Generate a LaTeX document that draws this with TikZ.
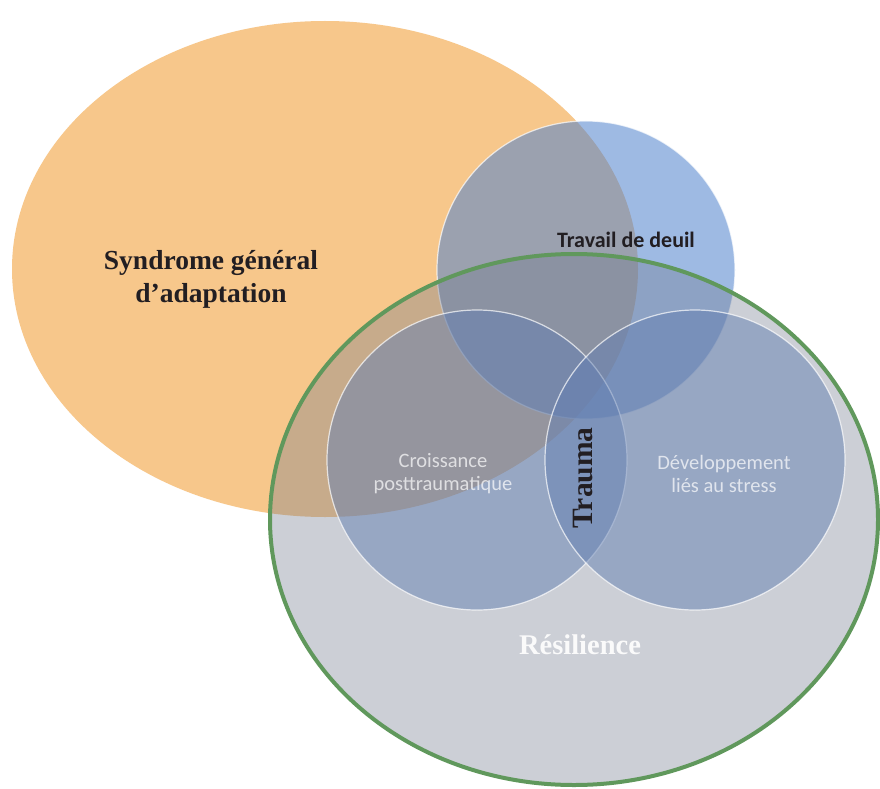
\documentclass[tikz,border=0pt]{standalone}
\usepackage{fontspec}
\setmainfont{Liberation Serif}
\newfontfamily\calibri{Carlito}
\definecolor{orangefill}{RGB}{247,199,139}
\definecolor{deuilblue}{RGB}{80,130,205}
\definecolor{resgray}{RGB}{111,120,140}
\definecolor{resgreen}{RGB}{96,152,92}
\definecolor{cercleblue}{RGB}{100,128,178}
\definecolor{encre}{RGB}{34,30,34}
\tikzset{
  pale/.style={text=white,text opacity=.7,font=\calibri\fontsize{20.5}{23}\selectfont,align=center},
  gros/.style={text=encre,font=\bfseries\fontsize{27.5}{33}\selectfont,align=center},
  contour/.style={white,opacity=.7,line width=1.2}
}
\begin{document}
\begin{tikzpicture}[x=1pt,y=-1pt]
        \useasboundingbox (0,0) rectangle (880,789);
        \fill [white] (0,0) rectangle (880,789);
        \fill [orangefill] (325,269) ellipse [x radius=313,y radius=248];
        \fill [deuilblue,fill opacity=.55] (586,270) circle [radius=149];
        \draw [contour] (586,270) circle [radius=149];
        \fill [resgray,fill opacity=.35] (574,519.5) ellipse [x radius=304,y radius=265.5];
        \draw [resgreen,line width=4] (574,519.5) ellipse [x radius=304,y radius=265.5];
        \foreach \cx in {477,695}{
            \fill [cercleblue,fill opacity=.5] (\cx,460) circle [radius=150];
            \draw [contour] (\cx,460) circle [radius=150];
        }
        \node (syndrome) [gros] at (211,279) {Syndrome général\\d’adaptation};
        \node (deuil) [text=encre,font=\calibri\bfseries\fontsize{22}{26}\selectfont] at (626,240) {Travail de deuil};
        \node (croissance) [pale] at (443,474) {Croissance\\posttraumatique};
        \node (developpement) [pale] at (724,474) {Développement\\liés au stress};
        \node (trauma) [gros,rotate=90,font=\bfseries\fontsize{29.5}{33}\selectfont] at (583,478) {Trauma};
        \node (resilience) [gros,text=white,text opacity=.9,font=\bfseries\fontsize{28.5}{33}\selectfont] at (580,645) {Résilience};

        \end{tikzpicture}
\end{document}
